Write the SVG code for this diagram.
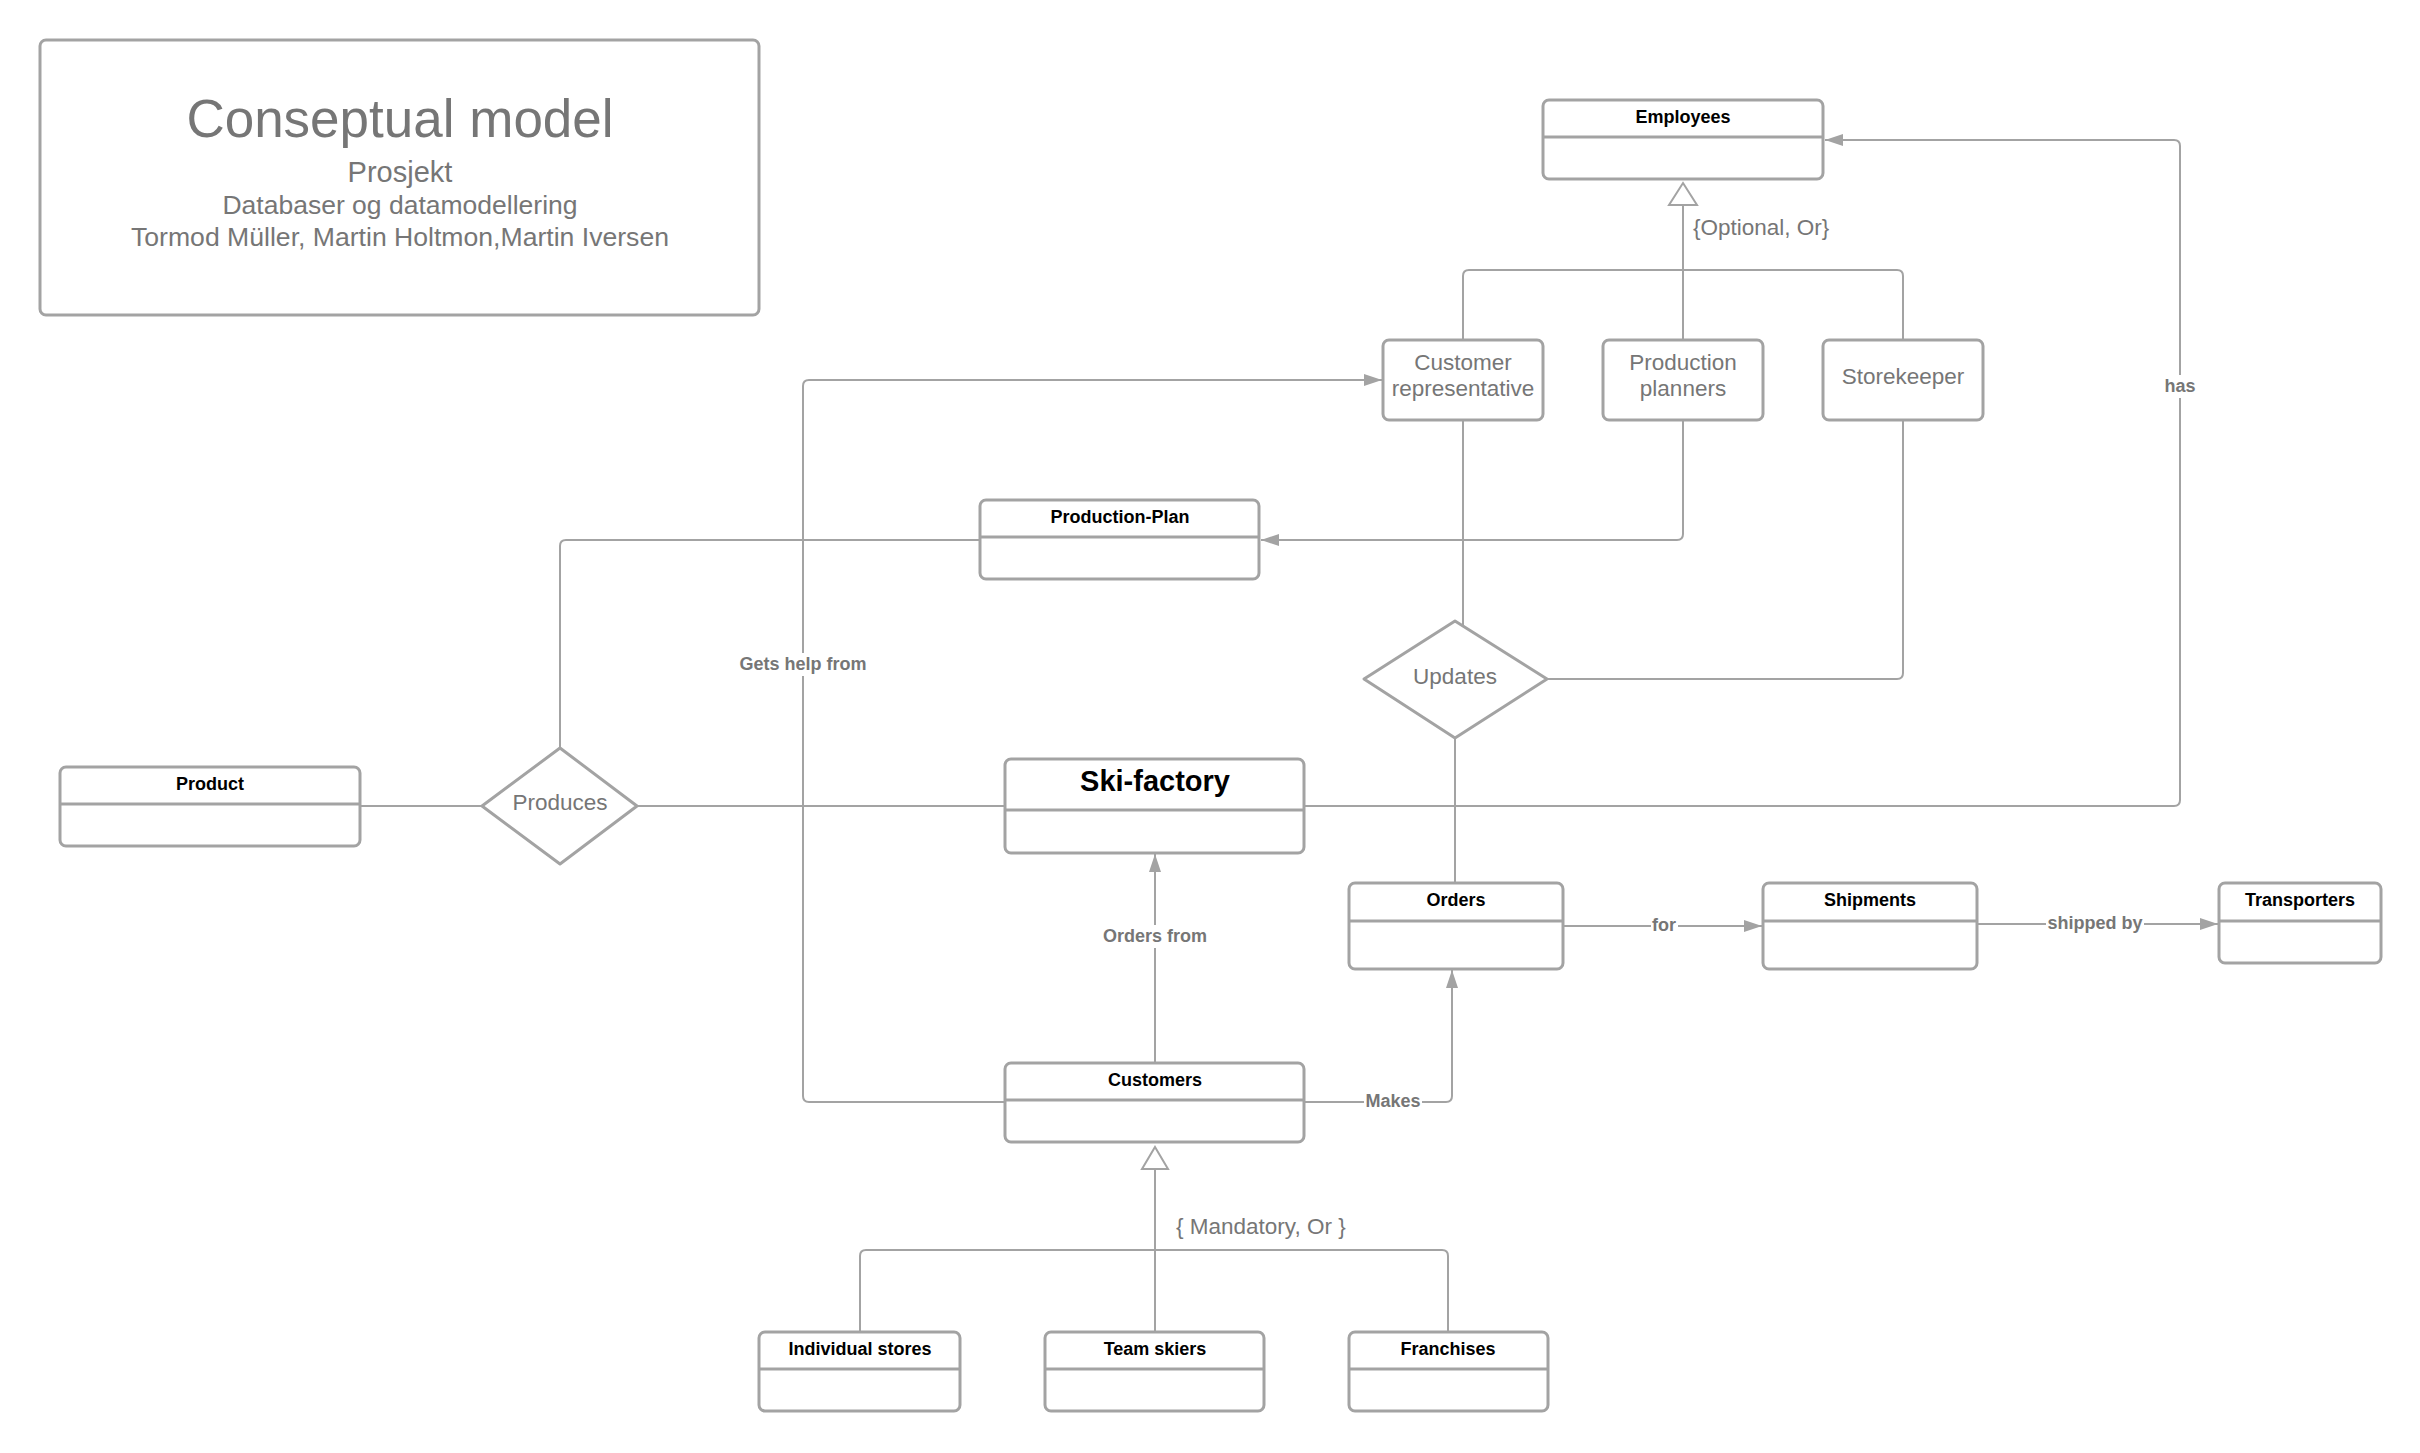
<svg xmlns="http://www.w3.org/2000/svg" width="2420" height="1453" viewBox="0 0 2420 1453">
<style>
.box{fill:#fff;stroke:#a3a3a3;stroke-width:3}
.div{stroke:#a3a3a3;stroke-width:3;fill:none}
.ln{fill:none;stroke:#a3a3a3;stroke-width:2}
.et{font-family:"Liberation Sans",Arial,sans-serif;font-weight:bold;font-size:18px;fill:#000;text-anchor:middle}
.gt{font-family:"Liberation Sans",Arial,sans-serif;font-size:22.5px;fill:#767676;text-anchor:middle}
.lb{font-family:"Liberation Sans",Arial,sans-serif;font-weight:bold;font-size:18px;fill:#767676;text-anchor:middle}
.bg{fill:#fff}
.tri{fill:#fff;stroke:#a3a3a3;stroke-width:2}
</style>
<defs>
<marker id="arr" viewBox="0 0 18 12" refX="18" refY="6" markerWidth="18" markerHeight="12" markerUnits="userSpaceOnUse" orient="auto">
<path d="M0,0 L18,6 L0,12 z" fill="#a3a3a3"/>
</marker>
</defs>
<rect width="2420" height="1453" fill="#fff"/>

<g id="connectors">
<path class="ln" d="M1304,806 H2174 Q2180,806 2180,800 V146 Q2180,140 2174,140 H1825" marker-end="url(#arr)"/>
<path class="ln" d="M1005,1102 H809 Q803,1102 803,1096 V386 Q803,380 809,380 H1382" marker-end="url(#arr)"/>
<path class="ln" d="M1683,420 V534 Q1683,540 1677,540 H1261" marker-end="url(#arr)"/>
<path class="ln" d="M980,540 H566 Q560,540 560,546 V748"/>
<path class="ln" d="M360,806 H481"/>
<path class="ln" d="M637,806 H1005"/>
<path class="ln" d="M1463,420 V625"/>
<path class="ln" d="M1547,679 H1897 Q1903,679 1903,673 V420"/>
<path class="ln" d="M1455,738 V883"/>
<path class="ln" d="M1563,926 H1762" marker-end="url(#arr)"/>
<path class="ln" d="M1977,924 H2218" marker-end="url(#arr)"/>
<path class="ln" d="M1155,1063 V854" marker-end="url(#arr)"/>
<path class="ln" d="M1304,1102 H1446 Q1452,1102 1452,1096 V970" marker-end="url(#arr)"/>
<path class="ln" d="M1463,340 V276 Q1463,270 1469,270 H1897 Q1903,270 1903,276 V340"/>
<path class="ln" d="M1683,340 V205"/>
<path class="tri" d="M1683,183 L1697,205 L1669,205 z"/>
<path class="ln" d="M860,1332 V1256 Q860,1250 866,1250 H1442 Q1448,1250 1448,1256 V1332"/>
<path class="ln" d="M1155,1332 V1169"/>
<path class="tri" d="M1155,1147 L1168,1169 L1142,1169 z"/>
<rect class="bg" x="2163" y="375" width="34" height="23"/>
<text class="lb" x="2180" y="392">has</text>
<rect class="bg" x="737" y="653" width="132" height="23"/>
<text class="lb" x="803" y="670">Gets help from</text>
<rect class="bg" x="1102" y="925" width="106" height="23"/>
<text class="lb" x="1155" y="942">Orders from</text>
<rect class="bg" x="1651" y="914" width="27" height="23"/>
<text class="lb" x="1664" y="931">for</text>
<rect class="bg" x="2046" y="912" width="98" height="23"/>
<text class="lb" x="2095" y="929">shipped by</text>
<rect class="bg" x="1364" y="1090" width="58" height="23"/>
<text class="lb" x="1393" y="1107">Makes</text>
<text class="gt" x="1693" y="235" style="text-anchor:start">{Optional, Or}</text>
<text class="gt" x="1176" y="1234" style="text-anchor:start">{ Mandatory, Or }</text>
</g>

<g id="title">
<rect class="box" x="40" y="40" width="719" height="275" rx="6"/>
<text x="400" y="137" font-family="Liberation Sans, Arial, sans-serif" font-size="53" fill="#767676" text-anchor="middle">Conseptual model</text>
<text x="400" y="182" font-family="Liberation Sans, Arial, sans-serif" font-size="29" fill="#767676" text-anchor="middle">Prosjekt</text>
<text x="400" y="214" font-family="Liberation Sans, Arial, sans-serif" font-size="26.5" fill="#767676" text-anchor="middle">Databaser og datamodellering</text>
<text x="400" y="246" font-family="Liberation Sans, Arial, sans-serif" font-size="26.6" fill="#767676" text-anchor="middle">Tormod Müller, Martin Holtmon,Martin Iversen</text>
</g>

<g id="employees">
<rect class="box" x="1543" y="100" width="280" height="79" rx="6"/>
<path class="div" d="M1543,137 H1823"/>
<text class="et" x="1683" y="123">Employees</text>
</g>

<g id="customer-representative">
<rect class="box" x="1383" y="340" width="160" height="80" rx="6"/>
<text class="gt" x="1463" y="370">Customer</text>
<text class="gt" x="1463" y="396">representative</text>
</g>

<g id="production-planners">
<rect class="box" x="1603" y="340" width="160" height="80" rx="6"/>
<text class="gt" x="1683" y="370">Production</text>
<text class="gt" x="1683" y="396">planners</text>
</g>

<g id="storekeeper">
<rect class="box" x="1823" y="340" width="160" height="80" rx="6"/>
<text class="gt" x="1903" y="384">Storekeeper</text>
</g>

<g id="production-plan">
<rect class="box" x="980" y="500" width="279" height="79" rx="6"/>
<path class="div" d="M980,537 H1259"/>
<text class="et" x="1120" y="523">Production-Plan</text>
</g>

<g id="updates">
<path class="box" d="M1455,621 L1547,679 L1455,738 L1364,679 z" stroke-linejoin="round"/>
<text class="gt" x="1455" y="684">Updates</text>
</g>

<g id="product">
<rect class="box" x="60" y="767" width="300" height="79" rx="6"/>
<path class="div" d="M60,804 H360"/>
<text class="et" x="210" y="790">Product</text>
</g>

<g id="produces">
<path class="box" d="M560,748 L637,806 L560,864 L482,806 z" stroke-linejoin="round"/>
<text class="gt" x="560" y="810">Produces</text>
</g>

<g id="ski-factory">
<rect class="box" x="1005" y="759" width="299" height="94" rx="6"/>
<path class="div" d="M1005,810 H1304"/>
<text class="et" x="1155" y="791" style="font-size:29px">Ski-factory</text>
</g>

<g id="orders">
<rect class="box" x="1349" y="883" width="214" height="86" rx="6"/>
<path class="div" d="M1349,921 H1563"/>
<text class="et" x="1456" y="906">Orders</text>
</g>

<g id="shipments">
<rect class="box" x="1763" y="883" width="214" height="86" rx="6"/>
<path class="div" d="M1763,921 H1977"/>
<text class="et" x="1870" y="906">Shipments</text>
</g>

<g id="transporters">
<rect class="box" x="2219" y="883" width="162" height="80" rx="6"/>
<path class="div" d="M2219,921 H2381"/>
<text class="et" x="2300" y="906">Transporters</text>
</g>

<g id="customers">
<rect class="box" x="1005" y="1063" width="299" height="79" rx="6"/>
<path class="div" d="M1005,1100 H1304"/>
<text class="et" x="1155" y="1086">Customers</text>
</g>

<g id="individual-stores">
<rect class="box" x="759" y="1332" width="201" height="79" rx="6"/>
<path class="div" d="M759,1369 H960"/>
<text class="et" x="860" y="1355">Individual stores</text>
</g>

<g id="team-skiers">
<rect class="box" x="1045" y="1332" width="219" height="79" rx="6"/>
<path class="div" d="M1045,1369 H1264"/>
<text class="et" x="1155" y="1355">Team skiers</text>
</g>

<g id="franchises">
<rect class="box" x="1349" y="1332" width="199" height="79" rx="6"/>
<path class="div" d="M1349,1369 H1548"/>
<text class="et" x="1448" y="1355">Franchises</text>
</g>
</svg>
